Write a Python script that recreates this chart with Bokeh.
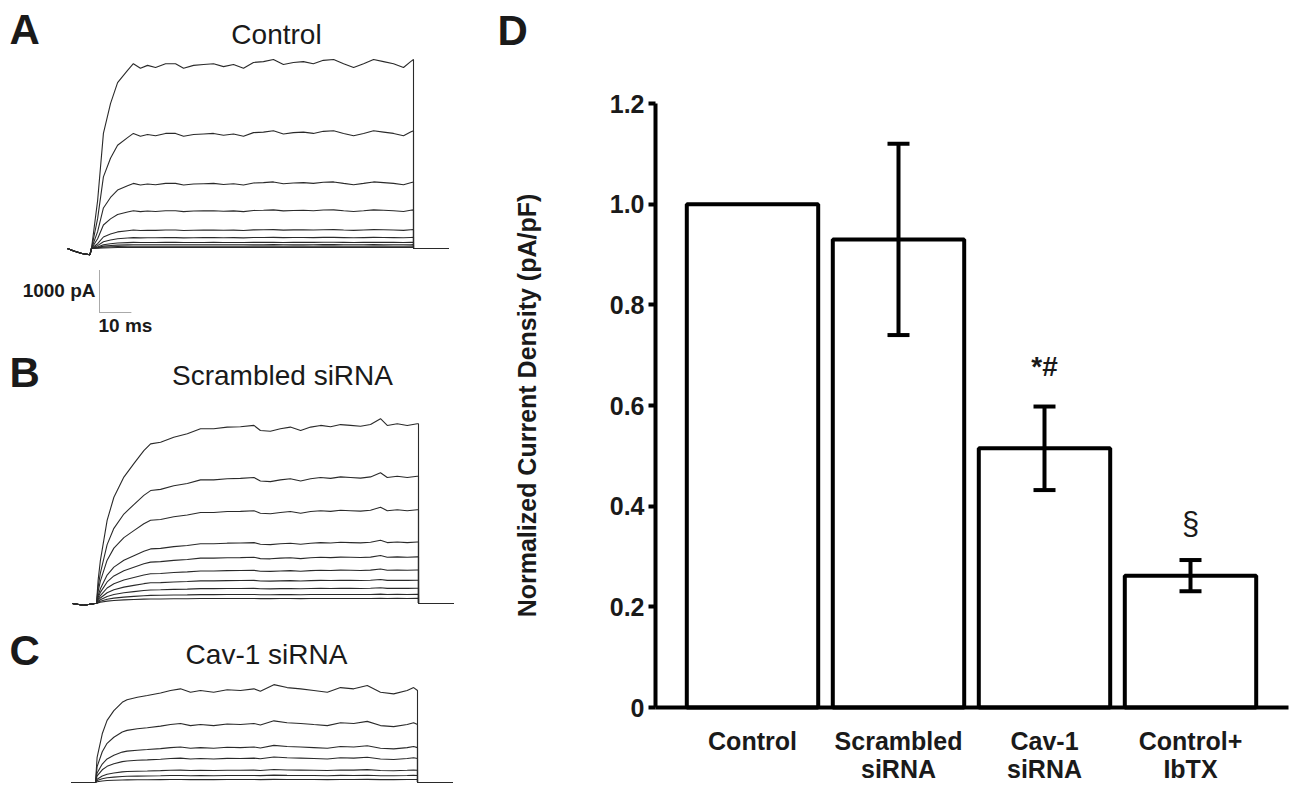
from bokeh.plotting import figure
from bokeh.models import (ColumnDataSource, Range1d, FixedTicker, Whisker, TeeHead, Label,
                          LinearAxis)
from bokeh.embed import file_html
from bokeh.resources import INLINE

FONT = "Liberation Sans"

# ---------------- Panel D data ----------------
groups = ["Control", "Scrambled\nsiRNA", "Cav-1\nsiRNA", "Control+\nIbTX"]
density = [1.0, 0.93, 0.515, 0.262]
sem = [0.0, 0.19, 0.083, 0.031]
marks = ["", "", "*#", "\u00a7"]
y_ticks = [0, 0.2, 0.4, 0.6, 0.8, 1.0, 1.2]
y_tick_labels = ["0", "0.2", "0.4", "0.6", "0.8", "1.0", "1.2"]
y_title = "Normalized Current Density (pA/pF)"

# ---------------- Current traces (ms, pA) ----------------
scale_ms = 10
scale_pa = 1000

a_t = [0, 1.9, 3.7, 5.9, 8.1, 11.2, 13.0, 15.2, 17.4, 19.9, 23.0, 26.1, 28.6, 31.7, 34.8, 37.9,
       41.0, 44.1, 47.2, 50.3, 53.4, 56.5, 59.6, 62.7, 65.8, 68.9, 72.0, 75.2, 78.3, 81.4, 84.5,
       87.6, 90.7, 93.8, 96.9, 99.1, 100.0]
a_top = [0, 1140, 2740, 3450, 3950, 4240, 4400, 4290, 4360, 4310, 4400, 4400, 4290, 4360, 4380,
         4400, 4330, 4380, 4290, 4430, 4450, 4500, 4380, 4430, 4450, 4400, 4480, 4500, 4400, 4310,
         4400, 4500, 4450, 4400, 4310, 4450, 4500]
a_levels = [4400, 2740, 1550, 900, 440, 260, 145, 90, 55, 25]
a_pre_t = [-7.5, -5.5, -3.0, -0.5]
a_pre_i = [0, -60, -120, -150]

b_t = [0, 0.5, 1.2, 3.3, 5.4, 8.5, 11.6, 14.7, 16.8, 19.9, 24.0, 28.2, 32.3, 36.4, 40.6, 44.7,
       48.9, 50.9, 54.0, 57.1, 60.2, 63.4, 66.5, 69.6, 72.7, 75.8, 78.9, 82.0, 85.1, 88.2, 90.3,
       93.4, 96.5, 99.6, 100.0]
b_top = [0, 550, 1020, 1980, 2530, 3010, 3330, 3640, 3800, 3840, 3960, 4040, 4160, 4160, 4200,
         4210, 4240, 4120, 4100, 4160, 4200, 4120, 4200, 4240, 4210, 4260, 4240, 4220, 4260, 4400,
         4240, 4280, 4240, 4280, 4280]
b_levels = [4240, 3000, 2210, 1450, 1100, 790, 550, 360, 215, 120]
b_pre_t = [-7.5, -4.0, -0.5]
b_pre_i = [0, -40, 0]

c_t = [0, 0.5, 2.1, 3.6, 5.7, 8.3, 9.8, 13.0, 16.1, 20.2, 23.3, 26.4, 29.5, 32.6, 36.7, 40.9,
       45.0, 49.2, 51.2, 55.4, 59.5, 63.7, 67.8, 72.0, 76.1, 80.2, 84.4, 88.5, 92.6, 96.8, 98.8,
       100.0]
c_top = [0, 600, 1160, 1480, 1710, 1910, 1970, 2030, 2070, 2130, 2190, 2230, 2150, 2190, 2150,
         2210, 2190, 2230, 2170, 2330, 2260, 2230, 2190, 2150, 2260, 2230, 2310, 2150, 2110, 2190,
         2260, 2190]
c_levels = [2190, 1380, 830, 570, 290, 165, 70]
c_pre_t = [-7.5, -0.5]
c_pre_i = [0, 0]

post_t = [100.0, 111.0]
post_i = [0, 0]

# ---------------- page-pixel helpers (layout only) ----------------
W, H = 1290, 786
PX_MS = 3.22      # page pixels per ms
PX_PA = 0.042     # page pixels per pA


def xd(px):          # page x -> trace time axis (ms)
    return (px - 91) / PX_MS


def yd(py):          # page y -> trace current axis (pA)
    return (H - py) / PX_PA


def rx(px):          # page x -> bar-chart x
    return 1 + (px - 752) / 146.0


def ry(py):          # page y -> bar-chart y
    return (707 - py) / 503.3


p = figure(width=W, height=H, x_range=Range1d(xd(0), xd(W)), y_range=Range1d(yd(H), yd(0)),
           output_backend="svg", toolbar_location=None, x_axis_location=None,
           y_axis_location=None, min_border=0)
p.grid.visible = False
p.outline_line_color = None
p.extra_x_ranges = {"bx": Range1d(rx(0), rx(W))}
p.extra_y_ranges = {"by": Range1d(ry(H), ry(0))}

# ---------------- panels A-C: current traces ----------------
panels = [
    (a_t, a_top, a_levels, a_pre_t, a_pre_i, xd(91), yd(248)),
    (b_t, b_top, b_levels, b_pre_t, b_pre_i, xd(96), yd(603)),
    (c_t, c_top, c_levels, c_pre_t, c_pre_i, xd(95), yd(782)),
]
for t, top, levels, pre_t, pre_i, dx, dy in panels:
    xs, ys = [], []
    for lev in levels[::-1]:
        r = lev / levels[0]
        tx = list(pre_t) + list(t) + post_t
        iy = list(pre_i) + [v * r for v in top] + post_i
        xs.append([v + dx for v in tx])
        ys.append([v + dy for v in iy])
    p.multi_line(xs="xs", ys="ys", source=ColumnDataSource(dict(xs=xs, ys=ys)),
                 line_color="#2a2a2a", line_width=1.1)

# scale bar (panel A)
sb_x = xd(99)
sb_top = yd(270)
p.line(x=[sb_x, sb_x], y=[sb_top, sb_top - scale_pa], line_color="#555555",
       line_width=1, line_dash="1 1")
p.line(x=[sb_x, sb_x + scale_ms], y=[sb_top - scale_pa, sb_top - scale_pa],
       line_color="#555555", line_width=1, line_dash="1 1")


def add_label(x, y, text, size, bold=True, align="left"):
    p.add_layout(Label(x=x, y=y, text=text, text_font=FONT, text_font_size=size,
                       text_font_style="bold" if bold else "normal", text_align=align,
                       text_baseline="middle", text_color="#1a1a1a"))


add_label(xd(9), yd(29), "A", "42px")
add_label(xd(276), yd(34), "Control", "28px", bold=False, align="center")
add_label(xd(9), yd(372), "B", "42px")
add_label(xd(282), yd(375), "Scrambled siRNA", "28px", bold=False, align="center")
add_label(xd(9), yd(650), "C", "42px")
add_label(xd(266), yd(654), "Cav-1 siRNA", "28px", bold=False, align="center")
add_label(xd(95), yd(290), "1000 pA", "19px", align="right")
add_label(xd(98), yd(325), "10 ms", "19px")
add_label(xd(497), yd(30), "D", "42px")

# ---------------- panel D: bar chart ----------------
xpos = [1, 2, 3, 4]
bars = ColumnDataSource(dict(x=xpos, top=density))
p.vbar(x="x", top="top", width=0.9, source=bars, fill_color="white",
       line_color="black", line_width=4, x_range_name="bx", y_range_name="by")

ex = [x for x, e in zip(xpos, sem) if e > 0]
eu = [d + e for d, e in zip(density, sem) if e > 0]
el = [d - e for d, e in zip(density, sem) if e > 0]
err_src = ColumnDataSource(dict(x=ex, upper=eu, lower=el))
p.add_layout(Whisker(source=err_src, base="x", upper="upper", lower="lower", level="overlay",
                     line_width=4, line_color="black", x_range_name="bx", y_range_name="by",
                     upper_head=TeeHead(size=22, line_width=4, line_color="black"),
                     lower_head=TeeHead(size=22, line_width=4, line_color="black")))

mark_style = {"*#": ("28px", "bold", 0.08), "\u00a7": ("31px", "normal", 0.072)}
for x, d, e, m in zip(xpos, density, sem, marks):
    if m:
        size, style, off = mark_style[m]
        p.add_layout(Label(x=x, y=d + e + off, text=m, text_font=FONT, text_font_size=size,
                           text_font_style=style, text_align="center", text_baseline="middle",
                           text_color="#1a1a1a", x_range_name="bx", y_range_name="by"))

x_lo = rx(655)
x_hi = rx(1288)
yax = LinearAxis(x_range_name="bx", y_range_name="by", fixed_location=x_lo, bounds=(0, 1.2))
yax.ticker = FixedTicker(ticks=y_ticks)
yax.major_label_overrides = dict(zip(y_ticks, y_tick_labels))
yax.axis_label = y_title
yax.axis_label_text_font = FONT
yax.axis_label_text_font_size = "25px"
yax.axis_label_text_font_style = "bold"
yax.axis_label_text_color = "#1a1a1a"
yax.axis_label_standoff = 66
yax.minor_tick_line_color = None
yax.major_tick_line_width = 4
yax.major_tick_line_color = "black"
yax.major_tick_out = 7
yax.major_tick_in = 0
yax.major_label_standoff = 4

xax = LinearAxis(x_range_name="bx", y_range_name="by", fixed_location=0, bounds=(x_lo, x_hi))
xax.ticker = FixedTicker(ticks=xpos)
xax.major_label_overrides = dict(zip(xpos, groups))
xax.major_tick_line_color = None
xax.minor_tick_line_color = None
xax.major_tick_out = 0
xax.major_tick_in = 0
xax.major_label_standoff = 19
xax.major_label_text_line_height = 1.0

for ax in (xax, yax):
    ax.axis_line_width = 4
    ax.axis_line_color = "black"
    ax.major_label_text_font = FONT
    ax.major_label_text_font_size = "25px"
    ax.major_label_text_font_style = "bold"
    ax.major_label_text_color = "#1a1a1a"

p.add_layout(yax, "left")
p.add_layout(xax, "below")

open("out.html", "w").write(file_html(p, INLINE))
